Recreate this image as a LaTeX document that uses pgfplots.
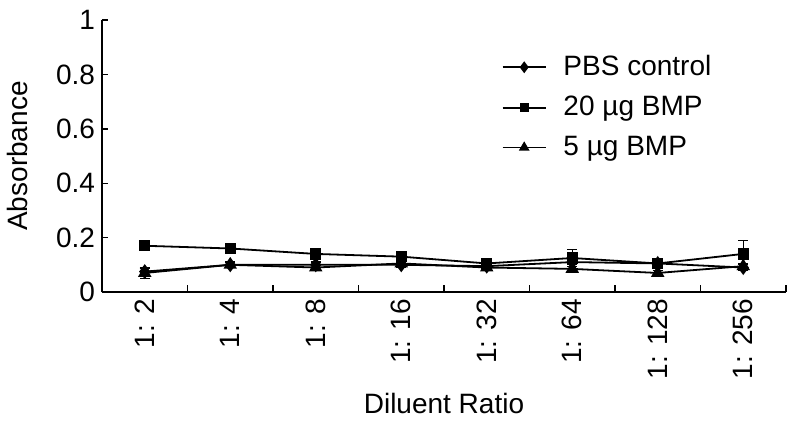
\documentclass[border=0pt]{standalone}
\usepackage{fontspec}
\setmainfont{Liberation Sans}
\usepackage{pgfplots}
\pgfplotsset{compat=1.18}
\begin{document}
\begin{tikzpicture}
\begin{axis}[
  scale only axis, width=342pt, height=136pt,
  xmin=-0.5, xmax=7.5, ymin=0, ymax=1,
  axis x line*=bottom, axis y line*=left,
  axis line style={line width=0.7pt},
  xtick={0,...,7},
  xticklabels={1: 2,1: 4,1: 8,1: 16,1: 32,1: 64,1: 128,1: 256},
  x tick label style={rotate=90, anchor=east, font=\fontsize{14}{16}\selectfont},
  major x tick style={draw=none},
  minor xtick={-0.5,0.5,...,7.5},
  minor tick length=3.5pt,
  ytick={0,0.2,...,1},
  yticklabels={0,0.2,0.4,0.6,0.8,1},
  y tick label style={font=\fontsize{14}{16}\selectfont},
  major tick length=3pt,
  tick style={line width=0.7pt, black},
  tick align=inside,
  /pgf/number format/assume math mode=true,
  xlabel={Diluent Ratio}, ylabel={Absorbance},
  label style={font=\fontsize{14}{16}\selectfont},
  ylabel style={at={(axis description cs:-0.123,0.5)}, anchor=center},
  legend style={at={(0.575,0.90)}, anchor=north west, draw=none, fill=none,
    font=\fontsize{14}{16}\selectfont, row sep=4.75pt},
  legend cell align=left,
  legend image code/.code={\draw[mark repeat=2,mark phase=2, every mark/.append style={scale=0.75}] plot coordinates {(0cm,0cm)(0.38cm,0cm)(0.76cm,0cm)}; \path[draw=none] (0.76cm,0) -- (1.0cm,0);},
  error bars/error bar style={black, line width=0.6pt},
  error bars/error mark options={rotate=90, mark size=2.5pt, black, line width=0.6pt},
]
\addplot[black, line width=0.9pt, mark=diamond*, mark size=3pt, mark options={fill=black, solid},
  error bars/.cd, y dir=both, y explicit] coordinates {
  (0,0.075) +- (0,0.01)
  (1,0.10) +- (0,0.01)
  (2,0.10) +- (0,0.01)
  (3,0.10) +- (0,0.01)
  (4,0.095) +- (0,0.01)
  (5,0.11) +- (0,0.01)
  (6,0.105) +- (0,0.01)
  (7,0.09) +- (0,0.01)
};
\addlegendentry{PBS control}
\addplot[black, line width=0.9pt, mark=square*, mark size=2.4pt, mark options={fill=black, solid},
  error bars/.cd, y dir=both, y explicit] coordinates {
  (0,0.17) +- (0,0.01)
  (1,0.16) +- (0,0.01)
  (2,0.14) +- (0,0.01)
  (3,0.13) +- (0,0.01)
  (4,0.105) +- (0,0.01)
  (5,0.125) +- (0,0.03)
  (6,0.105) +- (0,0.01)
  (7,0.14) +- (0,0.05)
};
\addlegendentry{20 µg BMP}
\addplot[black, line width=0.9pt, mark=triangle*, mark size=3pt, mark options={fill=black, solid},
  error bars/.cd, y dir=both, y explicit] coordinates {
  (0,0.07) +- (0,0.02)
  (1,0.10) +- (0,0.01)
  (2,0.09) +- (0,0.01)
  (3,0.105) +- (0,0.01)
  (4,0.09) +- (0,0.01)
  (5,0.085) +- (0,0.01)
  (6,0.07) +- (0,0.01)
  (7,0.095) +- (0,0.01)
};
\addlegendentry{5 µg BMP}
\end{axis}
\pgfresetboundingbox
\path[use as bounding box] (current axis.south west) ++(-51pt,-66.5pt) rectangle ++(394.5pt,212.5pt);
\end{tikzpicture}
\end{document}
